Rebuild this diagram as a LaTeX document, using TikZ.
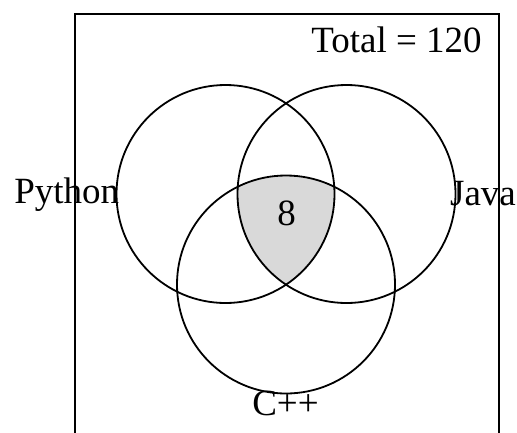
\documentclass[tikz,border=0pt]{standalone}
\usepackage{fontspec}
\setmainfont{Liberation Serif}
\begin{document}
\begin{tikzpicture}[x=1pt, y=-1pt, line width=1.8pt,
  set/.style={draw, circle, minimum size=218pt, inner sep=0pt},
  lbl/.style={anchor=base, inner sep=0pt, font=\fontsize{37}{44}\selectfont}]
\useasboundingbox (0,0) rectangle (517,432);
\node[draw, minimum width=424pt, minimum height=440pt, anchor=north west, inner sep=0pt] (universe) at (74,13) {};
% shaded triple overlap
\begin{scope}
\clip (225.5,194) circle (109pt);
\clip (346.5,194) circle (109pt);
\fill[black!15] (286,284.5) circle (109pt);
\end{scope}
\node[set] (python) at (225.5,194) {};
\node[set] (java) at (346.5,194) {};
\node[set] (cpp) at (286,284.5) {};
\node[lbl] (total) at (396.5,52) {Total = 120};
\node[lbl] (pythonlbl) at (66.7,203) {Python};
\node[lbl] (javalbl) at (483,205) {Java};
\node[lbl] (cpplbl) at (285.5,415) {C++};
\node[lbl] (center) at (286.7,225.5) {8};
\end{tikzpicture}
\end{document}
